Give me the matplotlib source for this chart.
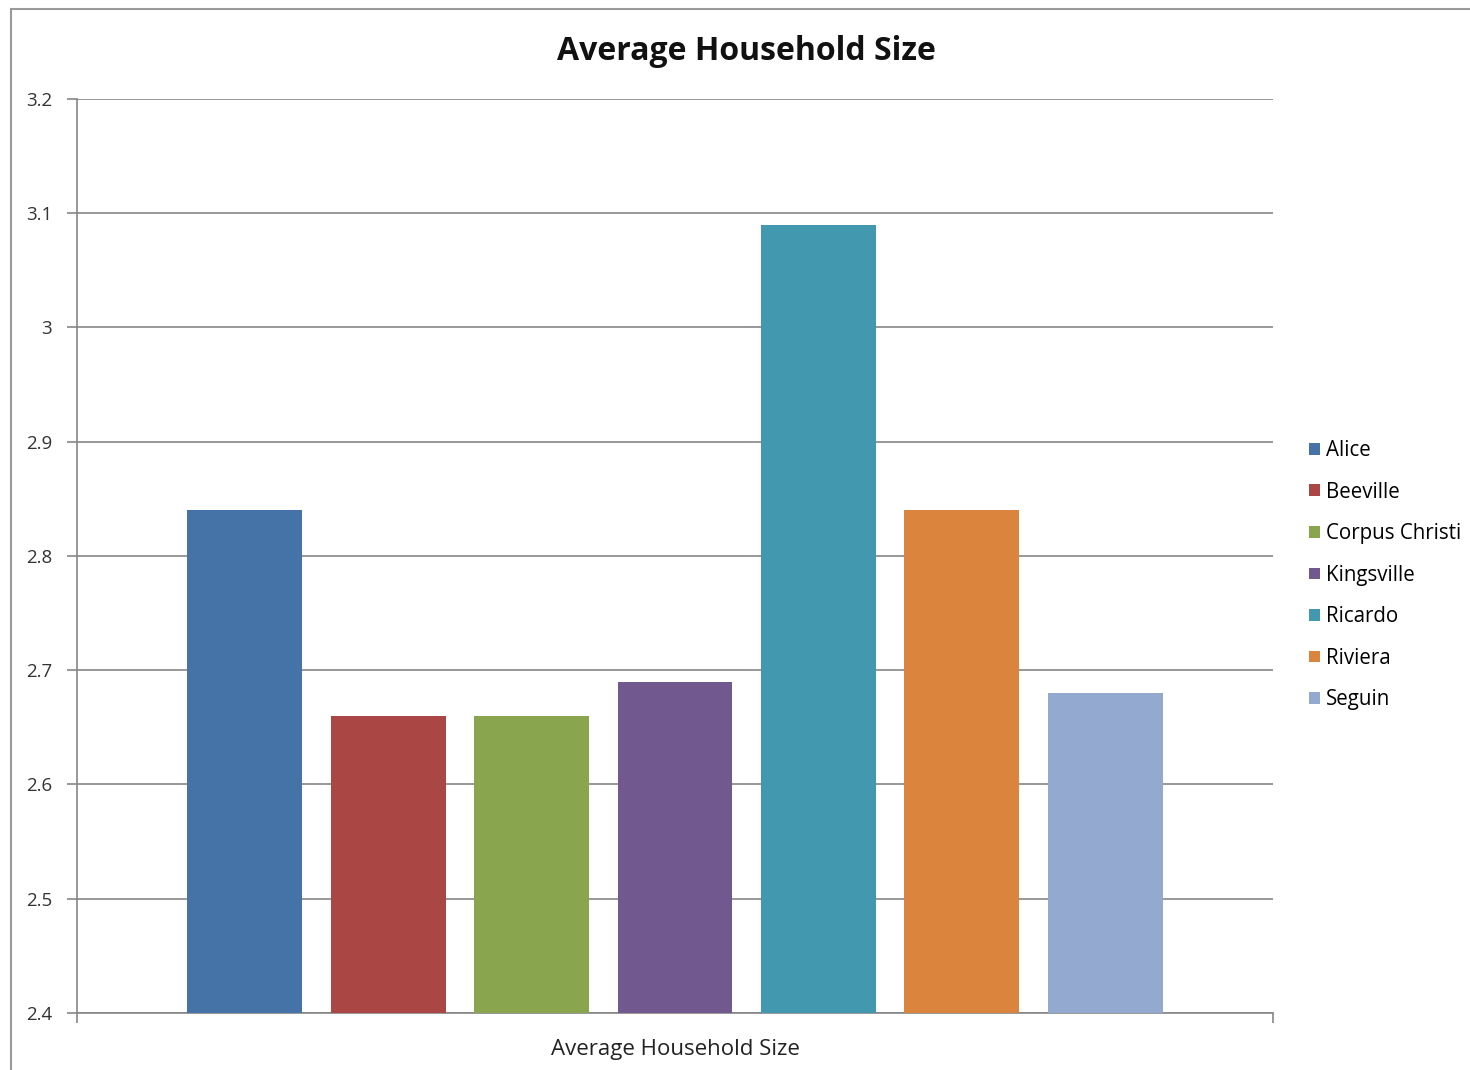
import numpy as np
import matplotlib
matplotlib.use("Agg")
import matplotlib.pyplot as plt
from matplotlib.patches import Rectangle, Patch

plt.rcParams['font.family'] = ['Open Sans', 'DejaVu Sans']

cities = ['Alice', 'Beeville', 'Corpus Christi', 'Kingsville', 'Ricardo', 'Riviera', 'Seguin']
sizes = [2.84, 2.66, 2.66, 2.69, 3.09, 2.84, 2.68]
colors = ['#4572A7', '#AA4643', '#89A54E', '#71588F', '#4198AF', '#DB843D', '#93A9CF']
yticks = [2.4, 2.5, 2.6, 2.7, 2.8, 2.9, 3.0, 3.1, 3.2]
ytick_labels = ['2.4', '2.5', '2.6', '2.7', '2.8', '2.9', '3', '3.1', '3.2']

fig = plt.figure(figsize=(14.7, 10.7), dpi=100)
ax = fig.add_axes([0.0524, 0.0533, 0.8136, 0.8542])

# outer chart border
fig.patches.append(Rectangle((0.0075, -0.01), 1.0, 1 - 0.0075 + 0.01 - 0.0005,
                             transform=fig.transFigure, fill=False,
                             edgecolor='#9a9a9a', linewidth=1.5))

x = np.arange(len(cities))
ax.bar(x, [s - 2.4 for s in sizes], bottom=2.4, width=0.8, color=colors, zorder=3)

ax.set_ylim(2.4, 3.2)
ax.set_xlim(-1.17, 7.17)
ax.set_yticks(yticks)
ax.set_yticklabels(ytick_labels, fontsize=13.5, color='#333333')
ax.set_xticks([-1.17, 7.17])
ax.set_xticklabels([])
ax.tick_params(axis='y', direction='out', length=7, width=1.2, color='#868686', pad=11)
ax.tick_params(axis='x', direction='out', length=7, width=1.2, color='#868686')
ax.grid(axis='y', color='#868686', linewidth=1.2, zorder=0)

for side in ['top', 'right']:
    ax.spines[side].set_visible(False)
for side in ['left', 'bottom']:
    ax.spines[side].set_color('#868686')
    ax.spines[side].set_linewidth(1.2)

fig.text(0.508, 0.952, 'Average Household Size', fontsize=23, fontweight='bold',
         ha='center', va='center', color='#111111')
ax.set_xlabel('Average Household Size', fontsize=16, color='#222222', labelpad=8)

handles = [Patch(facecolor=c, edgecolor='none') for c in colors]
ax.legend(handles, cities, loc='center left', bbox_to_anchor=(1.02, 0.479),
          frameon=False, fontsize=14.8, handlelength=0.5, handleheight=0.5,
          handletextpad=0.3, labelspacing=1.0, borderaxespad=0.2)

fig.savefig('out.png', dpi=100)
